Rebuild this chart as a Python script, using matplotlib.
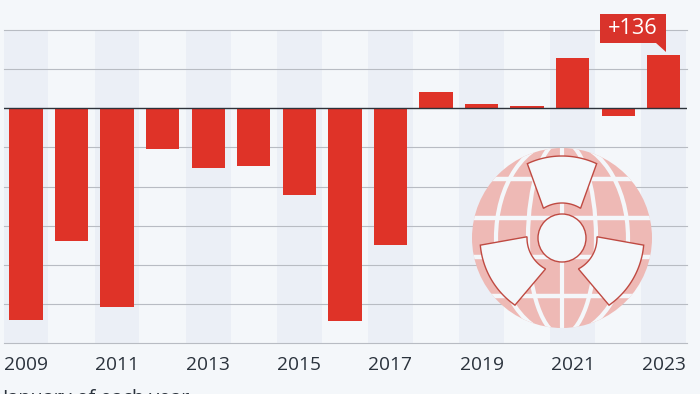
from __future__ import annotations

import numpy as np
import matplotlib
matplotlib.use("Agg")
import matplotlib.pyplot as plt
from matplotlib.patches import Circle, Ellipse, Polygon


BG = "#f4f7fa"
BAND = "#ebeff6"
GRID = "#b8bcc3"
RED = "#df3328"
TEXT = "#2a323c"
GLOBE = "#eeb9b5"
BLADE_EDGE = "#bf4a42"

years = [2009, 2010, 2011, 2012, 2013, 2014, 2015, 2016, 2017, 2018, 2019, 2020, 2021, 2022, 2023]
changes = [-540, -340, -508, -104, -153, -148, -222, -545, -350, 41, 10, 6, 128, -19, 136]
band_years = [2009, 2011, 2013, 2015, 2017, 2019, 2021, 2023]
tick_years = [2009, 2011, 2013, 2015, 2017, 2019, 2021, 2023]
grid_values = [200, 100, -100, -200, -300, -400, -500, -600]

plt.rcParams["font.family"] = ["Open Sans", "DejaVu Sans"]


def blade_points(direction: float) -> np.ndarray:
    # one sector of the radiation sign, in pixels around the globe centre
    cx, cy = 562, 238
    outer = np.radians(np.linspace(direction - 25, direction + 25, 30))
    inner = np.radians(np.linspace(direction + 32, direction - 32, 30))
    xs = np.concatenate([cx + 82 * np.cos(outer), cx + 35 * np.cos(inner)])
    ys = np.concatenate([cy - 82 * np.sin(outer), cy - 35 * np.sin(inner)])
    return np.column_stack([xs, ys])


def draw_icon(ax) -> None:
    cx, cy, r = 562, 238, 90
    globe = Circle((cx, cy), r, facecolor=GLOBE, edgecolor="none", zorder=1)
    ax.add_patch(globe)
    for y in (179, 218, 257, 296):
        line = ax.plot([cx - r, cx + r], [y, y], color=BG, lw=3.2, zorder=2, solid_capstyle="butt")[0]
        line.set_clip_path(globe)
    line = ax.plot([cx, cx], [cy - r, cy + r], color=BG, lw=3.0, zorder=2, solid_capstyle="butt")[0]
    line.set_clip_path(globe)
    for half_width in (34, 66):
        meridian = Ellipse((cx, cy), 2 * half_width, 2 * r * 1.08, facecolor="none", edgecolor=BG, lw=3.0, zorder=2)
        ax.add_patch(meridian)
        meridian.set_clip_path(globe)
    for direction in (90, 210, 330):
        ax.add_patch(Polygon(blade_points(direction), closed=True, facecolor=BG, edgecolor=BLADE_EDGE, lw=1.0, zorder=3))
    ax.add_patch(Circle((cx, cy), 24, facecolor=BG, edgecolor=BLADE_EDGE, lw=1.0, zorder=3))


def main() -> None:
    fig = plt.figure(figsize=(7, 3.94), dpi=100, facecolor=BG)
    ax = fig.add_axes([3.5 / 700, 51 / 394, 683.5 / 700, 313 / 394], facecolor="none")

    for year in band_years:
        ax.axvspan(year - 0.49, year + 0.49, color=BAND, lw=0, zorder=0)
    for value in grid_values:
        ax.axhline(value, color=GRID, lw=0.8, zorder=1, clip_on=False)
    ax.bar(years, changes, width=0.73, color=RED, zorder=3)
    ax.axhline(0, color="#2c323a", lw=1.0, zorder=4)

    ax.set_xlim(2008.506, 2023.51)
    ax.set_ylim(-600, 200)
    ax.set_xticks(tick_years)
    ax.set_yticks([])
    ax.tick_params(axis="x", length=0, pad=9, labelsize=13.8, labelcolor=TEXT)
    for spine in ax.spines.values():
        spine.set_visible(False)

    # pixel overlay for the icon, callout and cut-off note
    over = fig.add_axes([0, 0, 1, 1], facecolor="none")
    over.set_xlim(0, 700)
    over.set_ylim(394, 0)
    over.axis("off")
    draw_icon(over)
    over.add_patch(Polygon([(600, 14), (666, 14), (666, 52), (656, 43), (600, 43)], closed=True,
                           facecolor="#d9332b", edgecolor="none", zorder=5))
    over.text(633, 28, "+136", color="white", fontsize=15.7, ha="center", va="center", zorder=6)
    over.text(3, 404, "January of each year", color=TEXT, fontsize=14.2, ha="left", va="baseline")

    fig.savefig("out.png", dpi=100, facecolor=BG)
    plt.close(fig)


if __name__ == "__main__":
    main()
